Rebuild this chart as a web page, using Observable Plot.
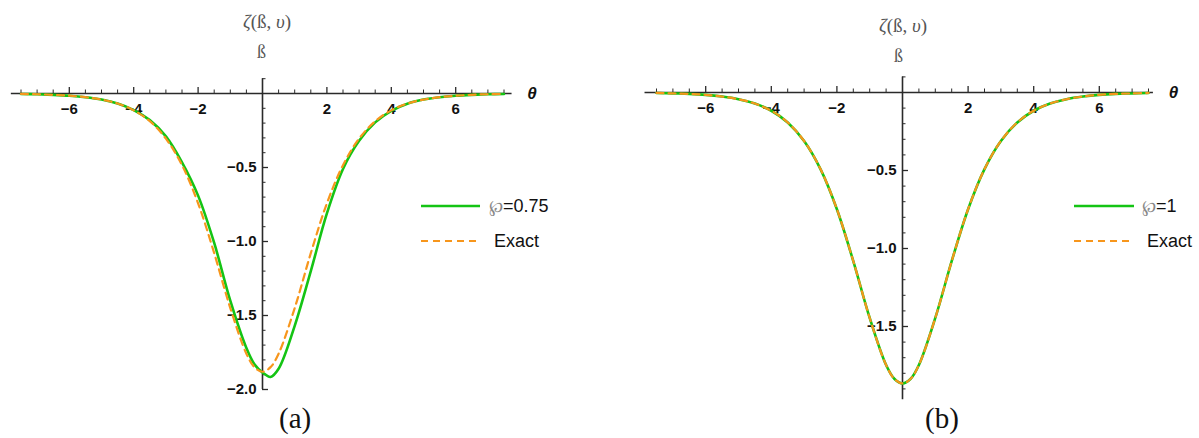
<!DOCTYPE html>
<html><head><meta charset="utf-8">
<script src="https://cdn.jsdelivr.net/npm/d3@7"></script>
<script src="https://cdn.jsdelivr.net/npm/@observablehq/plot@0.6"></script>
<style>
body{margin:0;background:#fff;}
#wrap{position:relative;width:1199px;height:438px;overflow:hidden;background:#fff;font-family:"Liberation Sans",Arial,sans-serif;}
.panel{position:absolute;top:0;}
.lbl{position:absolute;font-family:"Liberation Serif","Times New Roman",serif;color:#555;white-space:nowrap;line-height:20px;}
.leg{position:absolute;font-size:18px;color:#111;white-space:nowrap;line-height:22px;}
.sw{position:absolute;}
.cap{position:absolute;font-family:"Liberation Serif","Times New Roman",serif;font-size:29px;color:#111;line-height:34px;}
</style></head><body><div id="wrap"></div>
<script>
// ---- data ----
const theta = [-7.5,-7,-6.5,-6,-5.5,-5,-4.5,-4,-3.5,-3,-2.5,-2,-1.5,-1,-0.5,-0.25,0,0.25,0.5,1,1.5,2,2.5,3,3.5,4,4.5,5,5.5,6,6.5,7,7.5];
// panel (a)
const phiA   = [-0.003,-0.005,-0.009,-0.015,-0.025,-0.041,-0.068,-0.112,-0.180,-0.290,-0.465,-0.69,-1.01,-1.40,-1.72,-1.83,-1.885,-1.915,-1.86,-1.57,-1.20,-0.81,-0.51,-0.32,-0.195,-0.117,-0.069,-0.041,-0.025,-0.015,-0.009,-0.005,-0.003];
const exactA = [-0.003,-0.005,-0.009,-0.015,-0.025,-0.041,-0.068,-0.114,-0.187,-0.305,-0.484,-0.742,-1.079,-1.450,-1.758,-1.849,-1.88,-1.849,-1.758,-1.450,-1.079,-0.742,-0.484,-0.305,-0.187,-0.114,-0.068,-0.041,-0.025,-0.015,-0.009,-0.005,-0.003];
// panel (b)
const phiB   = [-0.003,-0.006,-0.009,-0.015,-0.026,-0.043,-0.071,-0.117,-0.192,-0.311,-0.491,-0.748,-1.081,-1.445,-1.747,-1.835,-1.865,-1.835,-1.747,-1.445,-1.081,-0.748,-0.491,-0.311,-0.192,-0.117,-0.071,-0.043,-0.026,-0.015,-0.009,-0.006,-0.003];
const exactB = [-0.003,-0.006,-0.009,-0.015,-0.026,-0.043,-0.071,-0.117,-0.192,-0.311,-0.491,-0.748,-1.081,-1.445,-1.747,-1.835,-1.865,-1.835,-1.747,-1.445,-1.081,-0.748,-0.491,-0.311,-0.192,-0.117,-0.071,-0.043,-0.026,-0.015,-0.009,-0.006,-0.003];
const xMajor = [-6,-4,-2,2,4,6];
const xMinor = [-7.5,-7,-6.5,-5.5,-5,-4.5,-3.5,-3,-2.5,-1.5,-1,-0.5,0.5,1,1.5,2.5,3,3.5,4.5,5,5.5,6.5,7,7.5];
const yMajorA = [-0.5,-1.0,-1.5,-2.0];
const yMajorB = [-0.5,-1.0,-1.5];
const yMinorA = [0.1,-0.1,-0.2,-0.3,-0.4,-0.6,-0.7,-0.8,-0.9,-1.1,-1.2,-1.3,-1.4,-1.6,-1.7,-1.8,-1.9];
const yMinorB = [0.1,-0.1,-0.2,-0.3,-0.4,-0.6,-0.7,-0.8,-0.9,-1.1,-1.2,-1.3,-1.4,-1.6,-1.7,-1.8,-1.9];
const legendA = ["\u2118", "=0.75", "Exact"];
const legendB = ["\u2118", "=1", "Exact"];

const GREEN = "#14c414", ORANGE = "#f7961c", AX = "#2a2a2a";
const fmtX = d => (d < 0 ? "\u2212" : "") + Math.abs(d);
const fmtY = d => "\u2212" + Math.abs(d).toFixed(1);

function panel(o) {
  const rows = theta.map((t, i) => ({t, g: o.green[i], e: o.exact[i]}));
  const ux = o.pxX, uy = o.pxY;
  return Plot.plot({
    width: o.width, height: 438,
    marginLeft: 0, marginRight: 0, marginTop: 0, marginBottom: 0,
    x: {domain: [-7.5, 7.5], range: o.xRange, axis: null},
    y: {domain: [0, -1], range: [o.y0, o.y0 + uy], axis: null},
    style: {overflow: "visible", fontFamily: "'Liberation Sans', Arial, sans-serif", background: "transparent"},
    marks: [
      Plot.ruleY([0], {x1: o.xExt[0], x2: o.xExt[1], stroke: AX, strokeWidth: 1.6}),
      Plot.ruleX([0], {y1: o.yExt[0], y2: o.yExt[1], stroke: AX, strokeWidth: 1.6}),
      Plot.ruleX(xMinor, {x: d => d, y1: 0, y2: 3.5 / uy, stroke: AX, strokeWidth: 1}),
      Plot.ruleX(xMajor, {x: d => d, y1: 0, y2: 6 / uy, stroke: AX, strokeWidth: 1.3}),
      Plot.ruleY(o.yMinor, {y: d => d, x1: 0, x2: 3.5 / ux, stroke: AX, strokeWidth: 1}),
      Plot.ruleY(o.yMajor, {y: d => d, x1: 0, x2: 6 / ux, stroke: AX, strokeWidth: 1.3}),
      Plot.text(xMajor, {x: d => d, y: 0, dy: 16, text: fmtX, fontWeight: "bold", fontSize: 15, fill: "#111"}),
      Plot.text(o.yMajor, {x: 0, y: d => d, dx: -6, textAnchor: "end", text: fmtY, fontWeight: "bold", fontSize: 15, fill: "#111"}),
      Plot.text(["\u03b8"], {x: o.xExt[1], y: 0, dx: 20, text: d => d, fontWeight: "bold", fontStyle: "italic", fontSize: 17, fill: "#111"}),
      Plot.line(rows, {x: "t", y: "g", stroke: GREEN, strokeWidth: 2.6, curve: "catmull-rom"}),
      Plot.line(rows, {x: "t", y: "e", stroke: ORANGE, strokeWidth: 2.2, strokeDasharray: "7,5", curve: "catmull-rom"})
    ]
  });
}

const wrap = document.getElementById("wrap");
const pa = panel({green: phiA, exact: exactA, width: 600, xRange: [262 - 7.5*32.2, 262 + 7.5*32.2], pxX: 32.2, y0: 93, pxY: 148,
  xExt: [-7.8, 7.75], yExt: [-2.0, 0.1], yMajor: yMajorA, yMinor: yMinorA});
pa.classList.add("panel"); pa.style.left = "0px";
wrap.appendChild(pa);
const pb = panel({green: phiB, exact: exactB, width: 599, xRange: [302 - 7.5*32.8, 302 + 7.5*32.8], pxX: 32.8, y0: 92, pxY: 156,
  xExt: [-7.85, 7.65], yExt: [-1.97, 0.1], yMajor: yMajorB, yMinor: yMinorB});
pb.classList.add("panel"); pb.style.left = "600px";
wrap.appendChild(pb);

function add(html, cls, style) {
  const d = document.createElement("div");
  d.className = cls; d.innerHTML = html; Object.assign(d.style, style); wrap.appendChild(d); return d;
}
function swatch(x1, x2, y, color, dash, w) {
  const s = document.createElementNS("http://www.w3.org/2000/svg", "svg");
  s.setAttribute("class", "sw");
  s.setAttribute("width", x2 - x1); s.setAttribute("height", 8);
  s.style.left = x1 + "px"; s.style.top = (y - 4) + "px";
  const l = document.createElementNS("http://www.w3.org/2000/svg", "line");
  l.setAttribute("x1", 0); l.setAttribute("x2", x2 - x1); l.setAttribute("y1", 4); l.setAttribute("y2", 4);
  l.setAttribute("stroke", color); l.setAttribute("stroke-width", w);
  if (dash) l.setAttribute("stroke-dasharray", dash);
  s.appendChild(l); wrap.appendChild(s);
}
const zeta = '<i>\u03b6</i>(\u00df, <i>\u03c5</i>)';
add(zeta, "lbl", {left: "243px", top: "12px", fontSize: "19px"});
add("\u00df", "lbl", {left: "257px", top: "42px", fontSize: "18px"});
add(zeta, "lbl", {left: "879px", top: "16px", fontSize: "19px"});
add("\u00df", "lbl", {left: "894px", top: "46px", fontSize: "18px"});

swatch(421, 480, 206, GREEN, null, 2.6);
swatch(421, 480, 241, ORANGE, "7,5", 2.2);
add('<span style="color:#888;font-family:\'DejaVu Serif\',serif;font-size:17px">' + legendA[0] + '</span>' + legendA[1], "leg", {left: "489px", top: "195px"});
add(legendA[2], "leg", {left: "494px", top: "230px"});

swatch(1074, 1134, 206, GREEN, null, 2.6);
swatch(1074, 1134, 241, ORANGE, "7,5", 2.2);
add('<span style="color:#888;font-family:\'DejaVu Serif\',serif;font-size:17px">' + legendB[0] + '</span>' + legendB[1], "leg", {left: "1142px", top: "195px"});
add(legendB[2], "leg", {left: "1147px", top: "230px"});

add("(a)", "cap", {left: "279px", top: "401px"});
add("(b)", "cap", {left: "925px", top: "401px"});
</script></body></html>
